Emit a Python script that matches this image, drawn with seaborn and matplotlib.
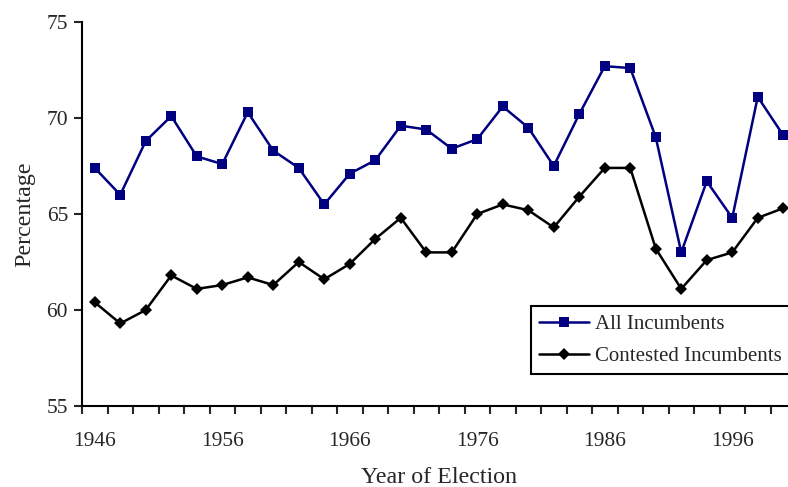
import seaborn as sns
import matplotlib
matplotlib.use("Agg")
import matplotlib.pyplot as plt
import matplotlib.ticker as ticker
import pandas as pd

# Election years and incumbent percentages
years = list(range(1946, 2001, 2))
all_incumbents = [67.4, 66.0, 68.8, 70.1, 68.0, 67.6, 70.3, 68.3, 67.4, 65.5,
                  67.1, 67.8, 69.6, 69.4, 68.4, 68.9, 70.6, 69.5, 67.5, 70.2,
                  72.7, 72.6, 69.0, 63.0, 66.7, 64.8, 71.1, 69.1]
contested_incumbents = [60.4, 59.3, 60.0, 61.8, 61.1, 61.3, 61.7, 61.3, 62.5, 61.6,
                        62.4, 63.7, 64.8, 63.0, 63.0, 65.0, 65.5, 65.2, 64.3, 65.9,
                        67.4, 67.4, 63.2, 61.1, 62.6, 63.0, 64.8, 65.3]
tick_years = [1946, 1956, 1966, 1976, 1986, 1996]

df = pd.DataFrame({"year": years,
                   "All Incumbents": all_incumbents,
                   "Contested Incumbents": contested_incumbents})

sns.set_style("ticks")
plt.rcParams['font.family'] = ['Liberation Serif', 'DejaVu Serif']

fig = plt.figure(figsize=(7.88, 4.87), dpi=100)
ax = fig.add_axes([82 / 788, 1 - 406 / 487, 714 / 788, 384 / 487])

sns.lineplot(data=df, x="year", y="All Incumbents", ax=ax, color="#000080",
             marker="s", markersize=7.5, markeredgewidth=0, linewidth=1.8,
             label="All Incumbents")
sns.lineplot(data=df, x="year", y="Contested Incumbents", ax=ax, color="black",
             marker="D", markersize=6, markeredgewidth=0, linewidth=1.8,
             label="Contested Incumbents")

ax.set_xlim(1945, 2001)
ax.set_ylim(55, 75)

# category-style x axis: ticks on bin edges, labels centred
ax.xaxis.set_major_locator(ticker.FixedLocator(list(range(1945, 2002, 2))))
ax.xaxis.set_major_formatter(ticker.NullFormatter())
ax.xaxis.set_minor_locator(ticker.FixedLocator(tick_years))
ax.xaxis.set_minor_formatter(ticker.FixedFormatter([str(y) for y in tick_years]))
ax.tick_params(axis="x", which="major", length=6, width=1.5, direction="out")
ax.tick_params(axis="x", which="minor", length=0, labelsize=15.5, pad=18.5)
ax.yaxis.set_major_locator(ticker.MultipleLocator(5))
ax.tick_params(axis="y", length=6, width=1.5, direction="out", labelsize=15.5, pad=4)

for side in ["top", "right"]:
    ax.spines[side].set_visible(False)
for side in ["left", "bottom"]:
    ax.spines[side].set_linewidth(1.5)
    ax.spines[side].set_color("black")

ax.set_xlabel("Year of Election", fontsize=17.3, labelpad=12)
ax.set_ylabel("Percentage", fontsize=17.3, labelpad=8)

leg = ax.legend(loc="upper left", bbox_to_anchor=(0.629, 0.260), borderaxespad=0,
                fontsize=15, handlelength=2.4, handletextpad=0.25,
                labelspacing=0.6, borderpad=0.4, fancybox=False,
                framealpha=1, edgecolor="black")
leg.get_frame().set_linewidth(1.5)

fig.savefig("out.png", dpi=100)
